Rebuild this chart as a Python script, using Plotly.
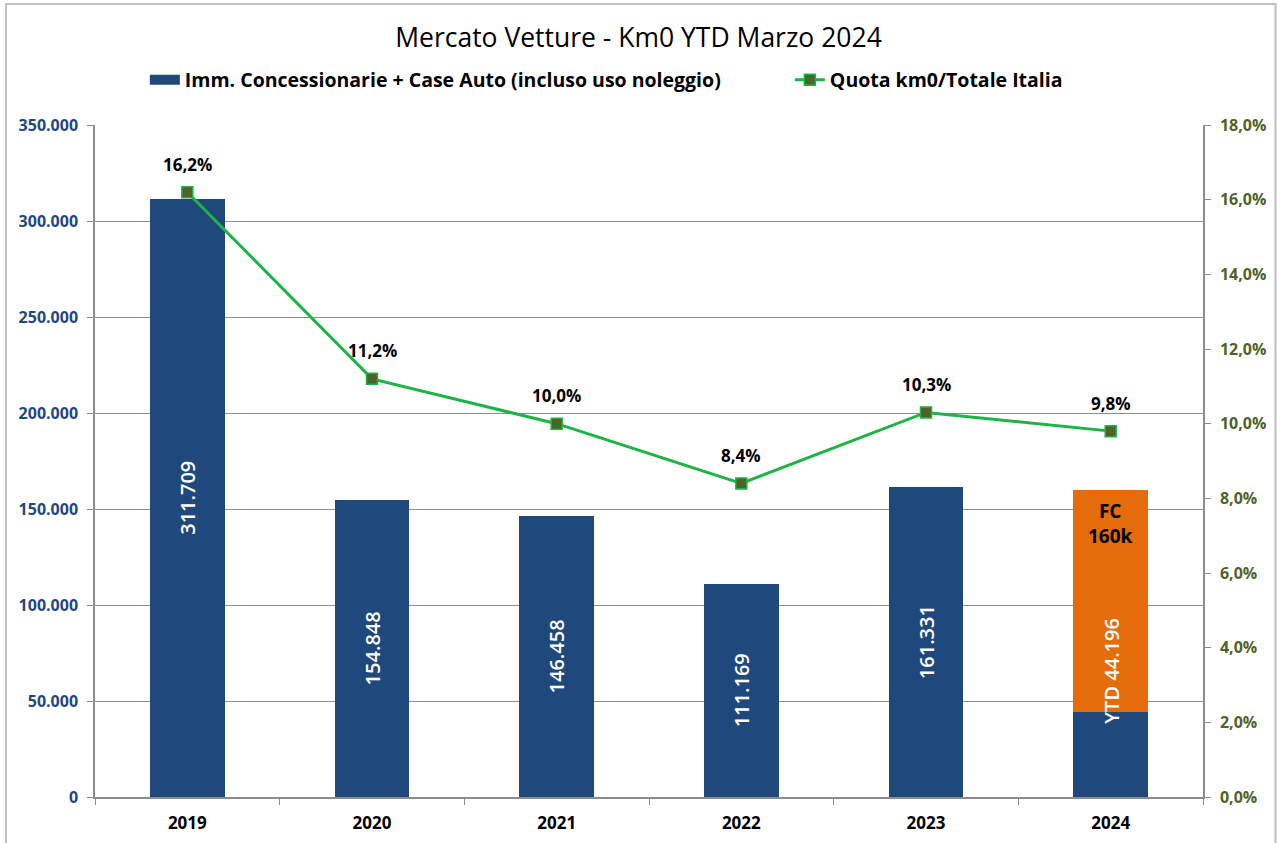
import plotly.graph_objects as go

years = ["2019", "2020", "2021", "2022", "2023", "2024"]
immatricolazioni = [311709, 154848, 146458, 111169, 161331, 44196]
forecast_total_2024 = 160000
quota_km0 = [16.2, 11.2, 10.0, 8.4, 10.3, 9.8]

left_ticks = [0, 50000, 100000, 150000, 200000, 250000, 300000, 350000]
right_ticks = [0, 0.02, 0.04, 0.06, 0.08, 0.10, 0.12, 0.14, 0.16, 0.18]

bar_name = "Imm. Concessionarie + Case Auto (incluso uso noleggio)"
line_name = "Quota km0/Totale Italia"

FONT = "Open Sans"
BLUE = "#1F497D"
ORANGE = "#E46C0A"
GREEN = "#1DB446"
OLIVE = "#4F6228"
GRID = "#8C8C8C"

def fmt_int(v):
    return f"{v:,}".replace(",", ".")

def fmt_pct(v):
    return f"{v:.1f}".replace(".", ",") + "%"

bar_text = [fmt_int(v) for v in immatricolazioni[:-1]] + [""]

fig = go.Figure()
fig.add_trace(go.Bar(
    x=years, y=immatricolazioni, name=bar_name, showlegend=False,
    marker=dict(color=BLUE, line=dict(width=0)),
    text=bar_text, textposition="inside", insidetextanchor="middle", textangle=-90,
    textfont=dict(color="white", size=20, family=FONT, weight=600),
    width=0.405,
))
fc_only = [None] * 5 + [forecast_total_2024 - immatricolazioni[-1]]
fig.add_trace(go.Bar(
    x=years, y=fc_only, name="FC", showlegend=False,
    marker=dict(color=ORANGE, line=dict(width=0)), width=0.405,
))
# legend proxy for the bar series (wide rectangle swatch)
fig.add_trace(go.Scatter(
    x=[None], y=[None], name=bar_name, mode="lines",
    line=dict(color=BLUE, width=11), legendwidth=600,
))
fig.add_trace(go.Scatter(
    x=years, y=[v / 100 for v in quota_km0], yaxis="y2", name=line_name,
    mode="lines+markers",
    line=dict(color=GREEN, width=3),
    marker=dict(symbol="square", size=11, color=OLIVE, line=dict(color=GREEN, width=1.5)),
    legendwidth=280,
))

annotations = []
for i, v in enumerate(quota_km0):
    annotations.append(dict(x=i, y=v / 100, xref="x", yref="y2", text=f"<b>{fmt_pct(v)}</b>",
                            showarrow=False, yshift=28, font=dict(size=17, color="black", family=FONT)))
last = len(years) - 1
annotations.append(dict(x=last, y=forecast_total_2024, xref="x", yref="y", yanchor="top", yshift=-6,
                        text="<b>FC<br>160k</b>", showarrow=False,
                        font=dict(size=19, color="black", family=FONT)))
annotations.append(dict(x=last, y=forecast_total_2024 * 0.41, xref="x", yref="y",
                        text="YTD " + fmt_int(immatricolazioni[-1]), textangle=-90, showarrow=False,
                        font=dict(size=20, color="white", family=FONT, weight=600)))

fig.update_layout(
    width=1277, height=843,
    barmode="stack",
    separators=",.",
    paper_bgcolor="white", plot_bgcolor="white",
    font=dict(family=FONT, color="black"),
    margin=dict(l=95, r=74, t=125, b=46, autoexpand=False),
    title=dict(text="Mercato Vetture - Km0 YTD Marzo 2024", x=0.5, xanchor="center",
               y=0.955, yanchor="middle", font=dict(size=26.5, color="black", family=FONT)),
    legend=dict(orientation="h", x=0.045, xanchor="left", y=1.067, yanchor="middle",
                font=dict(size=19.5, family=FONT, weight="bold"),
                traceorder="normal", bgcolor="rgba(0,0,0,0)"),
    xaxis=dict(type="category", range=[-0.5, len(years) - 0.5],
               showline=True, linecolor=GRID, linewidth=1.5, ticks="outside",
               tickson="boundaries", tickcolor=GRID, ticklen=6, tickangle=0, ticklabelstandoff=10,
               tickfont=dict(size=17, color="black", family=FONT, weight="bold"),
               showgrid=False),
    yaxis=dict(range=[0, 350000], tickvals=left_ticks, tickformat=",.0f",
               showline=True, linecolor=GRID, linewidth=1.5, ticks="outside",
               tickcolor=GRID, ticklen=6, showgrid=True, gridcolor=GRID, gridwidth=1,
               zeroline=False, ticklabelstandoff=6,
               tickfont=dict(size=16, color="#1F497D", family=FONT, weight="bold")),
    yaxis2=dict(range=[0, 0.18], tickvals=right_ticks, tickformat=".1%", overlaying="y",
                side="right", showline=True, linecolor=GRID, linewidth=1.5, ticks="outside",
                tickcolor=GRID, ticklen=6, showgrid=False, zeroline=False, ticklabelstandoff=6,
                tickfont=dict(size=16, color=OLIVE, family=FONT, weight="bold")),
    annotations=annotations,
    shapes=[dict(type="rect", xref="paper", yref="paper", x0=-0.0803, x1=1.0654, y0=-0.3, y1=1.180,
                 line=dict(color="#BFBFBF", width=2), fillcolor="rgba(0,0,0,0)", layer="above")],
)

fig.write_html("out.html", config={"displayModeBar": False},
               post_script="document.body.style.margin='0px'; document.body.style.overflow='hidden';")
